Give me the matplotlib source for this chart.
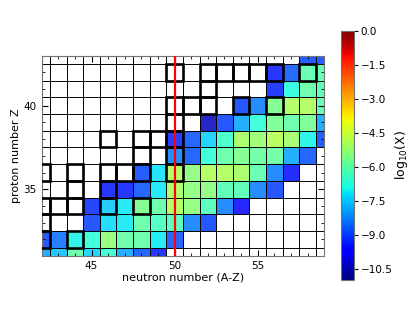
import numpy as np
import matplotlib
matplotlib.use("Agg")
import matplotlib.pyplot as plt
from matplotlib.patches import Rectangle

nan = np.nan
# neutron numbers (columns) and proton numbers (rows, top to bottom)
N_vals = list(range(42, 60))
Z_vals = list(range(43, 30, -1))

# log10 abundance per cell, NaN = empty (white)
logX = [
    [nan]*16 + [-8.9, -8.9],                                                    # Z=43
    [nan]*14 + [-9.4, -8.7, -6.1, -6.1],                                        # Z=42
    [nan]*14 + [-9.3, -6.8, -6.0, -6.2],                                        # Z=41
    [nan]*12 + [-9.0, -8.3, -5.6, -4.9, -4.9, -6.1],                            # Z=40
    [nan]*10 + [-10.4, -9.0, -7.9, -6.7, -5.7, -6.0, -5.7, -7.9],               # Z=39
    [nan]*8 + [-9.3, -8.8, -7.4, -6.5, -5.0, -5.2, -4.8, -5.1, -7.0, -8.9],     # Z=38
    [nan]*8 + [-8.3, -8.8, -6.7, -6.0, -5.6, -5.9, -5.9, -7.9, -8.8, nan],      # Z=37
    [nan]*6 + [-8.9, -7.2, -4.9, -5.4, -4.9, -4.9, -5.0, -6.1, -8.3, -9.5, nan, nan],  # Z=36
    [nan]*4 + [-9.4, -9.4, -8.8, -7.1, -5.0, -5.4, -5.4, -6.2, -6.2, -8.3, -9.0] + [nan]*3,  # Z=35
    [nan]*3 + [-9.2, -7.5, -7.1, -5.6, -6.0, -4.9, -5.4, -6.3, -8.3, -9.6] + [nan]*5,  # Z=34
    [nan]*3 + [-9.0, -7.3, -7.1, -6.0, -6.4, -6.3, -8.3, -9.0] + [nan]*7,      # Z=33
    [-9.0, -8.5, -7.0, -6.7, -5.3, -6.0, -6.0, -7.1, -8.8] + [nan]*9,          # Z=32
    [-7.9, -7.6, -6.0, -7.4, -6.6, -7.9, -8.8, -9.4] + [nan]*10,               # Z=31
]

# stable nuclei (Z, N) drawn with thick boxes
stable_Z = [42, 42, 42, 42, 42, 42, 42, 41, 40, 40, 40, 40, 40, 39,
            38, 38, 38, 38, 37, 37, 36, 36, 36, 36, 36, 36, 35, 35,
            34, 34, 34, 34, 34, 33, 32, 32]
stable_N = [50, 52, 53, 54, 55, 56, 58, 52, 50, 51, 52, 54, 56, 50,
            46, 48, 49, 50, 48, 50, 42, 44, 46, 47, 48, 50, 44, 46,
            42, 43, 44, 46, 48, 42, 42, 44]

data = np.ma.masked_invalid(np.array(logX))
N_edges = np.arange(N_vals[0] - 0.5, N_vals[-1] + 1.0)
Z_edges = np.arange(Z_vals[0] + 0.5, Z_vals[-1] - 1.0, -1)

cmap = plt.get_cmap("jet").copy()
cmap.set_bad("white")

fig = plt.figure(figsize=(4.15, 3.12), dpi=100)
ax = fig.add_axes([0.1005, 0.1795, 0.6805, 0.642])
mesh = ax.pcolormesh(N_edges, Z_edges, data, cmap=cmap, vmin=-11, vmax=0,
                     alpha=0.85, edgecolors="none")
# thin cell borders
for n in N_edges:
    ax.axvline(n, color="black", linewidth=0.7, zorder=2)
for z in Z_edges:
    ax.axhline(z, color="black", linewidth=0.7, zorder=2)

for z, n in zip(stable_Z, stable_N):
    ax.add_patch(Rectangle((n - 0.5, z - 0.5), 1, 1, fill=False,
                           edgecolor="black", linewidth=1.9, zorder=3))

ax.axvline(50, color="red", linewidth=1.6, zorder=4)

ax.set_xlim(42, 59)
ax.set_ylim(31, 43)
ax.set_xticks([45, 50, 55])
ax.set_yticks([35, 40])
ax.set_xticks(np.arange(42, 60), minor=True)
ax.set_yticks(np.arange(31, 44), minor=True)
ax.tick_params(which="both", direction="in", top=True, right=True, labelsize=7.5)
ax.tick_params(which="major", length=4)
ax.tick_params(which="minor", length=2)
for s in ax.spines.values():
    s.set_edgecolor("0.45")
ax.set_xlabel("neutron number (A-Z)", fontsize=8, labelpad=1)
ax.set_ylabel("proton number Z", fontsize=8, labelpad=2)

cax = fig.add_axes([0.8217, 0.1026, 0.0306, 0.798])
sm = plt.cm.ScalarMappable(cmap=cmap, norm=mesh.norm)
cb = fig.colorbar(sm, cax=cax, ticks=np.arange(0, -11, -1.5))
cb.ax.tick_params(labelsize=7.5, length=3, pad=2)
cb.set_label("log$_{10}$(X)", fontsize=9, labelpad=0)
cb.outline.set_edgecolor("0.45")

fig.savefig("out.png", dpi=100)
